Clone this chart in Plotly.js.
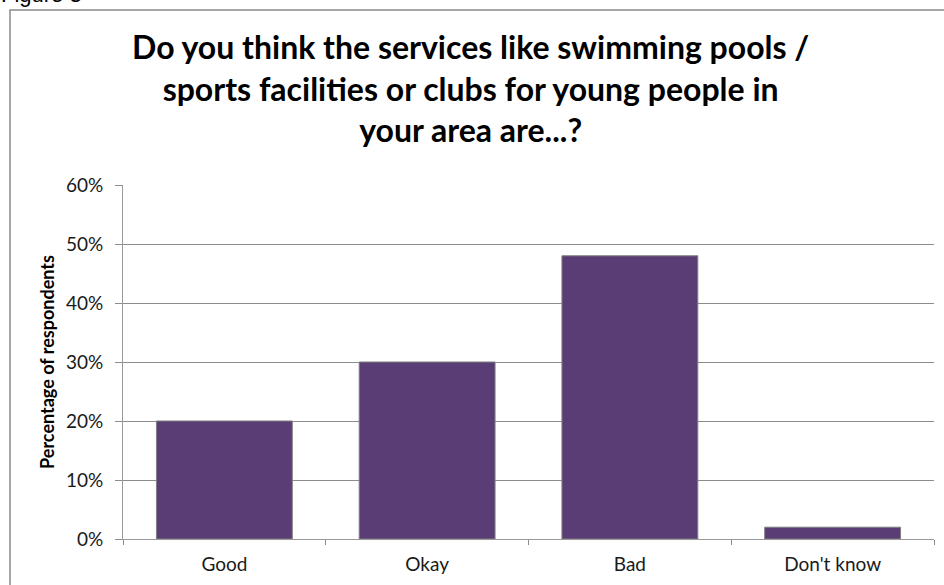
<!DOCTYPE html>
<html>
<head>
<meta charset="utf-8">
<script src="https://cdn.plot.ly/plotly-3.0.1.min.js"></script>
<style>html,body{margin:0;padding:0;background:#fff;}#chart{width:944px;height:585px;}</style>
</head>
<body>
<div id="chart"></div>
<script>
const categories = ["Good", "Okay", "Bad", "Don't know"];
const percentages = [20, 30, 48, 2];
const yTickValues = [0, 10, 20, 30, 40, 50, 60];
const yTickLabels = ["0%", "10%", "20%", "30%", "40%", "50%", "60%"];
const chartTitle = "Do you think the services like swimming pools /<br>sports facilities or clubs for young people in<br>your area are...?";
const yAxisTitle = "Percentage of respondents";
const figureLabel = "Figure 3";

const L = 123, R = 10, T = 185, B = 46, W = 944, H = 585;
const pw = W - L - R, ph = H - T - B;
const px = v => (v - L) / pw;
const py = v => (H - B - v) / ph;

const trace = {
  type: "bar",
  x: categories,
  y: percentages,
  width: 0.67,
  marker: {color: "#5A3D75", line: {color: "#7f7f7f", width: 1}},
  hoverinfo: "x+y"
};

const layout = {
  width: W, height: H,
  margin: {l: L, r: R, t: T, b: B},
  paper_bgcolor: "#ffffff",
  plot_bgcolor: "#ffffff",
  showlegend: false,
  font: {family: "Lato, 'Liberation Sans', sans-serif", color: "#000"},
  xaxis: {
    type: "category",
    tickson: "boundaries",
    ticks: "outside", ticklen: 5, tickcolor: "#8c8c8c",
    showline: true, linecolor: "#9a9a9a", linewidth: 1,
    showgrid: false,
    tickfont: {size: 19, color: "#1a1a1a"},
    ticklabelstandoff: 8,
    range: [-0.5, 3.5]
  },
  yaxis: {
    range: [0, 60],
    tickvals: yTickValues,
    ticktext: yTickLabels,
    ticks: "outside", ticklen: 7, tickcolor: "#8c8c8c",
    showline: true, linecolor: "#9a9a9a", linewidth: 1,
    showgrid: true, gridcolor: "#8c8c8c", gridwidth: 1,
    zeroline: false,
    tickfont: {size: 19, color: "#1a1a1a"},
    ticklabelstandoff: 8,
    title: {text: yAxisTitle, font: {size: 18, color: "#000", weight: "bold"}, standoff: 6}
  },
  shapes: [{
    type: "rect", xref: "paper", yref: "paper",
    x0: px(10), x1: px(960), y0: py(600), y1: py(10),
    line: {color: "#8a8a8a", width: 1.5}, fillcolor: "rgba(0,0,0,0)", layer: "below"
  }],
  annotations: [{
    text: chartTitle, xref: "paper", yref: "paper",
    x: px(470), xanchor: "center", y: py(25), yanchor: "top",
    showarrow: false, align: "center",
    font: {family: "Lato, 'Open Sans', sans-serif", size: 32, color: "#000", weight: "bold"}
  }, {
    text: figureLabel, xref: "paper", yref: "paper",
    x: px(-1), xanchor: "left", y: py(9), yanchor: "bottom",
    showarrow: false, font: {family: "'Liberation Sans', Arial, sans-serif", size: 22, color: "#000"}
  }]
};

Plotly.newPlot("chart", [trace], layout, {displayModeBar: false, staticPlot: true});
</script>
</body>
</html>
